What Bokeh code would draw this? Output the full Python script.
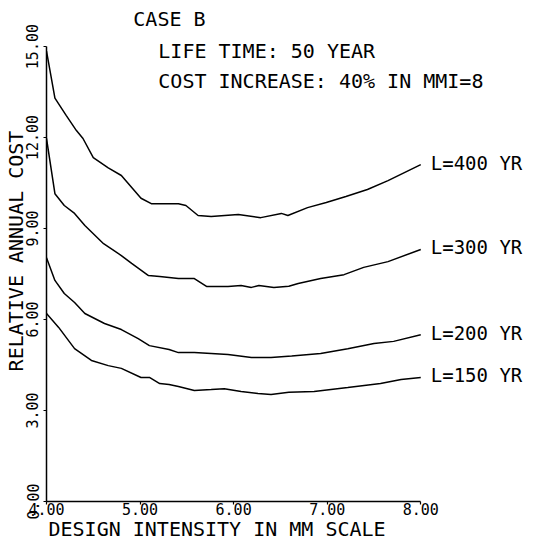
from bokeh.plotting import figure
from bokeh.models import Range1d, FixedTicker, PrintfTickFormatter, Title
from bokeh.core.properties import value
from bokeh.embed import file_html
from bokeh.resources import INLINE

# ---- data ----
x_400 = [4.0, 4.09, 4.21, 4.32, 4.39, 4.5, 4.66, 4.8, 5.01, 5.12, 5.31, 5.41, 5.49,
         5.62, 5.76, 6.05, 6.29, 6.51, 6.58, 6.79, 6.99, 7.2, 7.43, 7.65, 8.0]
y_400 = [14.85, 13.3, 12.73, 12.23, 11.97, 11.34, 11.0, 10.75, 10.0, 9.82, 9.82, 9.82, 9.76,
         9.43, 9.4, 9.46, 9.36, 9.5, 9.43, 9.69, 9.86, 10.06, 10.29, 10.58, 11.11]

x_300 = [4.0, 4.09, 4.19, 4.3, 4.41, 4.61, 4.71, 4.8, 4.91, 5.09, 5.21, 5.31, 5.41, 5.58,
         5.71, 5.94, 6.08, 6.19, 6.27, 6.43, 6.59, 6.69, 6.93, 7.18, 7.39, 7.65, 8.0]
y_300 = [11.97, 10.15, 9.76, 9.5, 9.1, 8.5, 8.3, 8.11, 7.85, 7.45, 7.42, 7.39, 7.35, 7.35,
         7.09, 7.09, 7.12, 7.06, 7.12, 7.06, 7.1, 7.19, 7.35, 7.48, 7.72, 7.91, 8.31]

x_200 = [4.0, 4.09, 4.19, 4.3, 4.41, 4.62, 4.8, 4.98, 5.1, 5.31, 5.41, 5.58, 5.76, 5.94,
         6.19, 6.4, 6.62, 6.93, 7.22, 7.5, 7.71, 8.0]
y_200 = [8.04, 7.29, 6.86, 6.56, 6.2, 5.87, 5.67, 5.37, 5.14, 5.01, 4.91, 4.91, 4.88, 4.85,
         4.75, 4.75, 4.8, 4.88, 5.04, 5.21, 5.28, 5.5]

x_150 = [4.0, 4.13, 4.3, 4.48, 4.66, 4.8, 5.01, 5.1, 5.21, 5.31, 5.41, 5.58, 5.76, 5.9,
         6.08, 6.26, 6.4, 6.59, 6.86, 7.22, 7.57, 7.79, 8.0]
y_150 = [6.2, 5.74, 5.04, 4.65, 4.48, 4.39, 4.09, 4.09, 3.89, 3.86, 3.79, 3.66, 3.69, 3.72,
         3.63, 3.56, 3.53, 3.6, 3.63, 3.76, 3.89, 4.02, 4.09]

series_labels = ["L=400 YR", "L=300 YR", "L=200 YR", "L=150 YR"]

x_ticks = [4, 5, 6, 7, 8]
y_ticks = [0, 3, 6, 9, 12, 15]

title_lines = ["CASE B", "LIFE TIME: 50 YEAR", "COST INCREASE: 40% IN MMI=8"]
x_title = "DESIGN INTENSITY IN MM SCALE"
y_title = "RELATIVE ANNUAL COST"

FONT = "DejaVu Sans Mono"

p = figure(width=537, height=543, output_backend="svg", toolbar_location=None,
           x_range=Range1d(4, 9.237), y_range=Range1d(0, 16.52),
           min_border_left=45, min_border_right=1, min_border_top=0, min_border_bottom=42)
p.outline_line_color = None
p.grid.visible = False
p.background_fill_color = "white"
p.border_fill_color = "white"

for ax in (p.xaxis[0], p.yaxis[0]):
    ax.axis_line_color = "black"
    ax.axis_line_width = 1.5
    ax.major_tick_line_color = "black"
    ax.major_tick_line_width = 1.2
    ax.major_tick_out = 3
    ax.major_tick_in = 0
    ax.minor_tick_line_color = None
    ax.major_label_text_font = FONT
    ax.major_label_text_font_size = "15px"
    ax.major_label_text_color = "black"
    ax.axis_label_text_font = FONT
    ax.axis_label_text_font_style = "normal"
    ax.axis_label_text_color = "black"
    ax.formatter = PrintfTickFormatter(format="%.2f")

xa = p.xaxis[0]
xa.ticker = FixedTicker(ticks=x_ticks)
xa.bounds = (x_ticks[0], x_ticks[-1])
xa.major_label_standoff = -2

# x-axis title, left-aligned under the axis like the plotter original
p.add_layout(Title(text=x_title, align="left", offset=2, standoff=-5,
                   text_font=FONT, text_font_size="20px", text_font_style="normal",
                   text_color="black"), "below")

ya = p.yaxis[0]
ya.ticker = FixedTicker(ticks=y_ticks)
ya.bounds = (y_ticks[0], y_ticks[-1])
ya.axis_label = y_title
ya.axis_label_text_font_size = "20px"
ya.major_label_orientation = "vertical"
ya.major_label_standoff = 5
ya.axis_label_standoff = -4

xs = [x_400, x_300, x_200, x_150]
ys = [y_400, y_300, y_200, y_150]
for xv, yv, lab in zip(xs, ys, series_labels):
    p.line(xv, yv, line_color="black", line_width=1.5)
    p.text(x=[xv[-1]], y=[yv[-1]], text=[lab], x_offset=10, y_offset=-2,
           text_font=value(FONT), text_font_size="19px", text_color="black",
           text_align="left", text_baseline="middle")

# header texts
p.text(x=[4.928], y=[15.91], text=[title_lines[0]], text_font=value(FONT),
       text_font_size="20px", text_align="left", text_baseline="middle", text_color="black")
p.text(x=[5.195, 5.195], y=[14.87, 13.88], text=title_lines[1:], text_font=value(FONT),
       text_font_size="20px", text_align="left", text_baseline="middle", text_color="black")

open("out.html", "w").write(file_html(p, INLINE))
